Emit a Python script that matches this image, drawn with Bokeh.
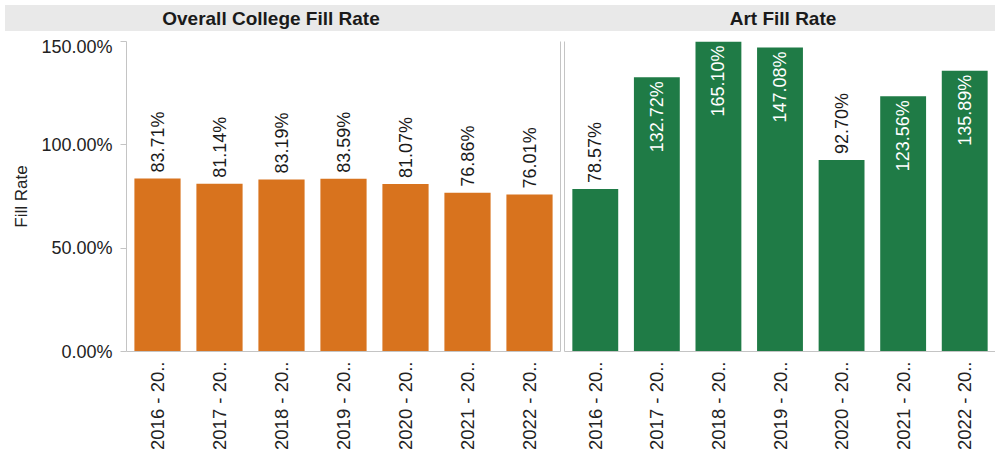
from math import pi
from bokeh.plotting import figure
from bokeh.models import (ColumnDataSource, FactorRange, Range1d, FixedTicker,
                          PrintfTickFormatter, LinearAxis, Div)
from bokeh.layouts import row, column
from bokeh.embed import file_html
from bokeh.resources import INLINE
from bokeh.core.properties import value

# ---------------- data ----------------
years = ["2016 - 20..", "2017 - 20..", "2018 - 20..", "2019 - 20..",
         "2020 - 20..", "2021 - 20..", "2022 - 20.."]
overall_fill_rate = [83.71, 81.14, 83.19, 83.59, 81.07, 76.86, 76.01]
art_fill_rate = [78.57, 132.72, 165.10, 147.08, 92.70, 123.56, 135.89]
y_ticks = [0, 50, 100, 150]
panel_titles = ["Overall College Fill Rate", "Art Fill Rate"]
y_axis_title = "Fill Rate"

# ---------------- style ----------------
FONT = "Liberation Sans"
ORANGE = "#d8731e"
GREEN = "#1f7b46"
Y_MAX = 150
INSIDE_THRESHOLD = 115
AXIS_GREY = "#c4c4c4"
LEFT_W = 561
RIGHT_W = 434


def make_panel(vals, color, width, left_panel):
    p = figure(x_range=FactorRange(factors=years, range_padding=0),
               y_range=Range1d(0, Y_MAX),
               width=width, height=425,
               output_backend="svg", toolbar_location=None,
               min_border_top=5, min_border_bottom=110,
               min_border_left=126 if left_panel else 3,
               min_border_right=1 if left_panel else 0,
               outline_line_color=None,
               background_fill_color="white", border_fill_color="white")
    src = ColumnDataSource(dict(x=years, top=vals))
    p.vbar(x="x", top="top", width=0.745, source=src,
           fill_color=color, line_color=None)

    out_x, out_y, out_t = [], [], []
    in_x, in_y, in_t = [], [], []
    for yr, v in zip(years, vals):
        lab = f"{v:.2f}%"
        if v > INSIDE_THRESHOLD:
            in_x.append(yr); in_y.append(min(v, Y_MAX)); in_t.append(lab)
        else:
            out_x.append(yr); out_y.append(v); out_t.append(lab)
    p.text(x="x", y="y", text="t", source=ColumnDataSource(dict(x=out_x, y=out_y, t=out_t)),
           angle=pi / 2, text_align="left", text_baseline="middle", y_offset=-6,
           text_font=value(FONT), text_font_size="18px", text_color="#1a1a1a")
    p.text(x="x", y="y", text="t", source=ColumnDataSource(dict(x=in_x, y=in_y, t=in_t)),
           angle=pi / 2, text_align="right", text_baseline="middle", y_offset=4,
           text_font=value(FONT), text_font_size="18px", text_color="white")

    p.xgrid.grid_line_color = None
    p.ygrid.grid_line_color = None

    xa = p.xaxis[0]
    xa.major_label_orientation = pi / 2
    xa.major_tick_line_color = None
    xa.minor_tick_line_color = None
    xa.axis_line_color = AXIS_GREY
    xa.major_label_standoff = 4
    xa.major_label_text_font = FONT
    xa.major_label_text_font_size = "18.5px"
    xa.major_label_text_color = "#222222"

    ya = p.yaxis[0]
    ya.ticker = FixedTicker(ticks=y_ticks)
    ya.minor_tick_line_color = None
    ya.axis_line_color = AXIS_GREY
    if left_panel:
        ya.formatter = PrintfTickFormatter(format="%.2f%%")
        ya.major_tick_line_color = AXIS_GREY
        ya.major_tick_out = 6
        ya.major_tick_in = 0
        ya.major_label_standoff = 8
        ya.major_label_text_font = FONT
        ya.major_label_text_font_size = "18px"
        ya.major_label_text_color = "#222222"
        ya.axis_label = y_axis_title
        ya.axis_label_text_font = FONT
        ya.axis_label_text_font_size = "17px"
        ya.axis_label_text_font_style = "normal"
        ya.axis_label_text_color = "#222222"
        ya.axis_label_standoff = 7
        sep = LinearAxis(ticker=FixedTicker(ticks=[]), axis_line_color=AXIS_GREY,
                         major_tick_line_color=None, minor_tick_line_color=None,
                         major_label_text_font_size="0px", major_label_standoff=0)
        p.add_layout(sep, "right")
    else:
        ya.ticker = FixedTicker(ticks=[])
        ya.major_tick_line_color = None
        ya.major_label_text_font_size = "0px"
        ya.major_label_standoff = 0
    return p


left = make_panel(overall_fill_rate, ORANGE, LEFT_W, True)
right = make_panel(art_fill_rate, GREEN, RIGHT_W, False)

header_html = (
    '<div style="display:flex;height:26px;align-items:center;">'
    f'<div style="width:532px;flex:none;text-align:center;">{panel_titles[0]}</div>'
    f'<div style="width:{RIGHT_W}px;flex:none;margin-left:29px;text-align:center;">{panel_titles[1]}</div>'
    '</div>'
)
header = Div(text=header_html, width=LEFT_W + RIGHT_W, height=26,
             styles={"background-color": "#e9e9e9", "font-family": FONT,
                     "font-weight": "bold", "font-size": "19px", "color": "#1a1a1a"})

layout = column(header, row(left, right, spacing=0), spacing=0)

open("out.html", "w").write(file_html(layout, INLINE))
